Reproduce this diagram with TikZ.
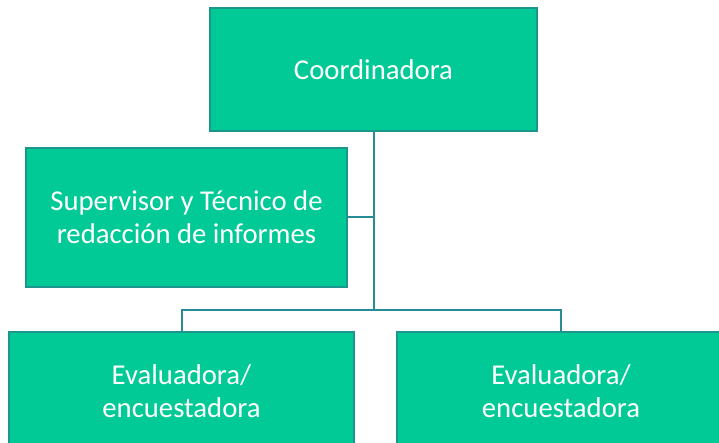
\documentclass[tikz,border=0pt]{standalone}
\usepackage{fontspec}
\setmainfont{Carlito}
\definecolor{boxfill}{RGB}{2,202,151}
\definecolor{boxline}{RGB}{28,150,140}
\definecolor{wire}{RGB}{40,140,150}

\begin{document}
\begin{tikzpicture}[x=1pt, y=-1pt,
	box/.style={draw=boxline, line width=1.5pt, fill=boxfill, text=white, align=center,
		inner sep=0pt, font=\fontsize{28.7}{33}\selectfont},
	wire/.style={draw=wire, line width=2pt}]
	\path[use as bounding box, clip] (0,0) rectangle (719,443);

	\node[box, minimum width=327, minimum height=123] (coord) at (373.5,69.5) {Coordinadora};
	\node[box, minimum width=321, minimum height=139] (superv) at (186.5,217.5) {Supervisor y Técnico de\\redacción de informes};
	\node[box, minimum width=345, minimum height=118] (evalA) at (181.5,391) {Evaluadora/\\encuestadora};
	\node[box, minimum width=328, minimum height=118] (evalB) at (561,391) {Evaluadora/\\encuestadora};

	\coordinate (bus) at (373.5,310);
	\draw[wire] (coord.south) -- (bus);
	\draw[wire] (superv.east) -- (superv.east -| coord.south);
	\draw[wire] (evalA.north) |- (bus) -| (evalB.north);
\end{tikzpicture}
\end{document}
